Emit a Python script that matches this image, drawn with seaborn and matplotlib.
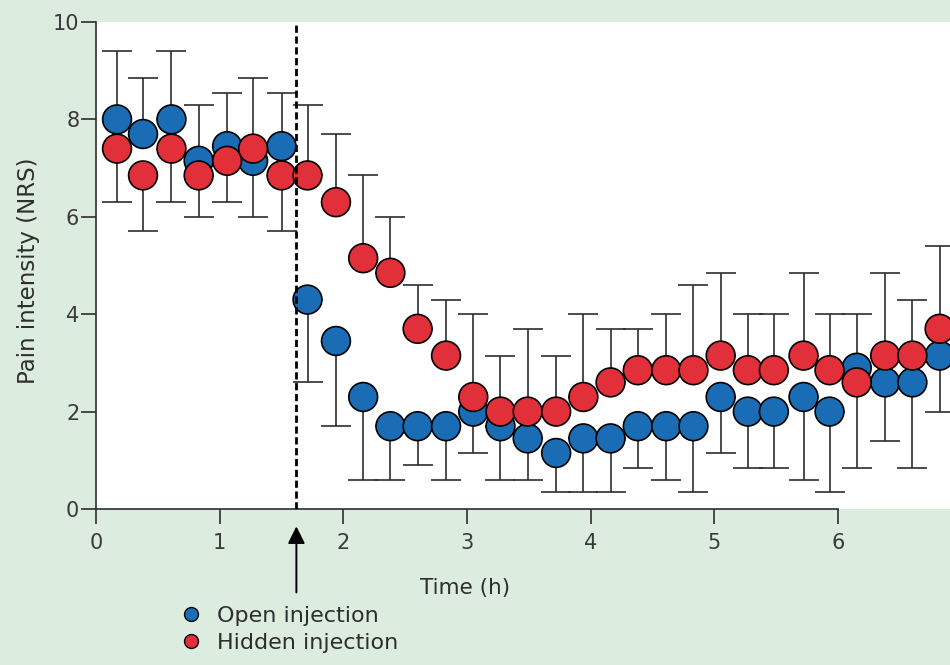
import numpy as np
import pandas as pd
import seaborn as sns
import matplotlib.pyplot as plt
from matplotlib.lines import Line2D

# values
time_h = [0.17, 0.38, 0.61, 0.83, 1.06, 1.27, 1.50, 1.71, 1.94, 2.16, 2.38,
          2.60, 2.83, 3.05, 3.27, 3.49, 3.72, 3.94, 4.16, 4.38, 4.61, 4.83,
          5.05, 5.27, 5.48, 5.72, 5.93, 6.15, 6.38, 6.60, 6.82]
open_nrs = [8.0, 7.7, 8.0, 7.15, 7.45, 7.15, 7.45, 4.3, 3.45, 2.3, 1.7,
            1.7, 1.7, 2.0, 1.7, 1.45, 1.15, 1.45, 1.45, 1.7, 1.7, 1.7,
            2.3, 2.0, 2.0, 2.3, 2.0, 2.9, 2.6, 2.6, 3.15]
hidden_nrs = [7.4, 6.85, 7.4, 6.85, 7.15, 7.4, 6.85, 6.85, 6.3, 5.15, 4.85,
              3.7, 3.15, 2.3, 2.0, 2.0, 2.0, 2.3, 2.6, 2.85, 2.85, 2.85,
              3.15, 2.85, 2.85, 3.15, 2.85, 2.6, 3.15, 3.15, 3.7]
# ends of the error whiskers (upper one above the higher point, lower one below the lower point)
upper_cap = [9.4, 8.85, 9.4, 8.3, 8.55, 8.85, 8.55, 8.3, 7.7, 6.85, 6.0,
             4.6, 4.3, 4.0, 3.15, 3.7, 3.15, 4.0, 3.7, 3.7, 4.0, 4.6,
             4.85, 4.0, 4.0, 4.85, 4.0, 4.0, 4.85, 4.3, 5.4]
lower_cap = [6.3, 5.7, 6.3, 6.0, 6.3, 6.0, 5.7, 2.6, 1.7, 0.6, 0.6,
             0.9, 0.6, 1.15, 0.6, 0.6, 0.35, 0.35, 0.35, 0.85, 0.6, 0.35,
             1.15, 0.85, 0.85, 0.6, 0.35, 0.85, 1.4, 0.85, 2.0]
injection_time = 1.62
x_ticks = [0, 1, 2, 3, 4, 5, 6]
y_ticks = [0, 2, 4, 6, 8, 10]
groups = ['Open injection', 'Hidden injection']

bg = '#dcecde'
colors = {'Open injection': '#1a6db5', 'Hidden injection': '#e1303a'}
ink = '#2e2e2e'

sns.set_theme(style='ticks', rc={'figure.facecolor': bg, 'axes.facecolor': 'white'})
plt.rcParams['font.family'] = ['DejaVu Sans']

df = pd.DataFrame({
    'time': time_h * 2,
    'nrs': open_nrs + hidden_nrs,
    'group': [groups[0]] * len(time_h) + [groups[1]] * len(time_h),
})

fig = plt.figure(figsize=(9.5, 6.65), dpi=100)
ax = fig.add_axes([96 / 950, 1 - 509 / 665, 854 / 950, 487 / 665])

t = np.array(time_h)
hi = np.maximum(open_nrs, hidden_nrs)
lo = np.minimum(open_nrs, hidden_nrs)
zero = np.zeros_like(t)
err_kw = dict(fmt='none', ecolor=ink, elinewidth=1.2, capsize=10.8, capthick=1.2, zorder=1)
ax.errorbar(t, hi, yerr=[zero, np.array(upper_cap) - hi], **err_kw)
ax.errorbar(t, lo, yerr=[lo - np.array(lower_cap), zero], **err_kw)

sns.scatterplot(data=df, x='time', y='nrs', hue='group', palette=colors,
                s=430, edgecolor='black', linewidth=1.2, legend=False,
                ax=ax, zorder=3)

ax.vlines(injection_time, 0, 10, colors='black', linestyles=(0, (2.6, 1.3)),
          linewidth=2.0, zorder=4)
ax.annotate('', xy=(injection_time, -0.03), xycoords=('data', 'axes fraction'),
            xytext=(injection_time, -0.177), textcoords=('data', 'axes fraction'),
            arrowprops=dict(arrowstyle='-|>', color='black', lw=1.4, mutation_scale=26),
            annotation_clip=False)

ax.set_xlim(0, 6.904)
ax.set_ylim(0, 10)
ax.set_xticks(x_ticks)
ax.set_yticks(y_ticks)
sns.despine(ax=ax)
ax.spines['bottom'].set_bounds(0, 6)
ax.spines['left'].set_bounds(0, 10)
for s in ['left', 'bottom']:
    ax.spines[s].set_color(ink)
    ax.spines[s].set_linewidth(1.2)
ax.tick_params(axis='both', direction='out', length=11, width=1.2, color=ink,
               labelcolor='#3a3a3a', labelsize=15)
ax.tick_params(axis='x', pad=6)
ax.tick_params(axis='y', pad=1)

ax.set_xlabel('Time (h)', fontsize=15.5, color=ink)
ax.set_ylabel('Pain intensity (NRS)', fontsize=16.5, color=ink)
ax.xaxis.set_label_coords(0.432, -0.142)
ax.yaxis.set_label_coords(-0.065, 0.49)

handles = [Line2D([], [], ls='', marker='o', markersize=10, markerfacecolor=colors[g],
                  markeredgecolor='black', markeredgewidth=1.0) for g in groups]
fig.legend(handles, groups, loc='upper left', bbox_to_anchor=(180 / 950, (665 - 606) / 665),
           frameon=False, fontsize=16, handlelength=1.0, handletextpad=0.65,
           labelspacing=0.3, borderpad=0, borderaxespad=0, labelcolor=ink)

fig.savefig('out.png', dpi=100, facecolor=bg)
